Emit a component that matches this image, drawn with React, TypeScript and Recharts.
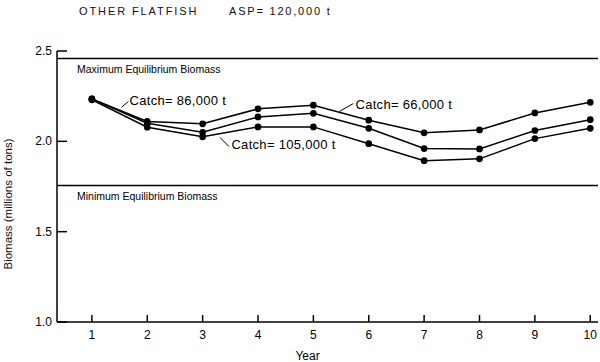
import { LineChart, Line, XAxis, YAxis, ReferenceLine, ReferenceDot } from "recharts";

const years = [1, 2, 3, 4, 5, 6, 7, 8, 9, 10];
const catch66k = [2.235, 2.11, 2.097, 2.18, 2.2, 2.117, 2.047, 2.063, 2.157, 2.216];
const catch86k = [2.235, 2.1, 2.05, 2.135, 2.155, 2.072, 1.96, 1.958, 2.06, 2.12];
const catch105k = [2.23, 2.078, 2.025, 2.08, 2.08, 1.987, 1.893, 1.903, 2.015, 2.072];

const yTicks = [1.0, 1.5, 2.0, 2.5];
const maxEquilibrium = 2.458;
const minEquilibrium = 1.755;

// annotation labels: text anchor, leader from -> to
const labels = [
  { text: "Catch= 86,000 t", x: 1.68, y: 2.226, from: { x: 1.54, y: 2.19 }, to: { x: 1.66, y: 2.22 } },
  { text: "Catch= 66,000 t", x: 5.76, y: 2.203, from: { x: 5.47, y: 2.165 }, to: { x: 5.72, y: 2.209 } },
  { text: "Catch= 105,000 t", x: 3.52, y: 1.982, from: { x: 3.315, y: 2.021 }, to: { x: 3.477, y: 1.971 } },
];

const data = years.map((yr, i) => ({
  year: yr,
  c66: catch66k[i],
  c86: catch86k[i],
  c105: catch105k[i],
}));

const FONT = "'Liberation Sans', Arial, Helvetica, sans-serif";

function XTick(props: any) {
  const { x, y, payload } = props;
  const axisY = y - 2;
  return (
    <g>
      <path d={`M${x},${axisY}V${axisY - 7}`} stroke="#000" strokeWidth={1.5} />
      <text x={x} y={axisY + 17} textAnchor="middle" fontSize={12} fontFamily={FONT} fill="#000">
        {payload.value}
      </text>
    </g>
  );
}

function YTick(props: any) {
  const { x, y, payload } = props;
  const axisX = x + 3;
  return (
    <g>
      <path d={`M${axisX},${y}H${axisX + 10}`} stroke="#000" strokeWidth={1.5} />
      <text x={axisX - 5} y={y + 4} textAnchor="end" fontSize={12} fontFamily={FONT} fill="#000">
        {Number(payload.value).toFixed(1)}
      </text>
    </g>
  );
}

export default function App() {
  return (
    <div style={{ position: "absolute", left: 0, top: 0, width: 600, height: 362, background: "#fff", fontFamily: FONT }}>
      <div style={{ position: "absolute", left: 79, top: 5, fontSize: 11, letterSpacing: 1.9, color: "#111", whiteSpace: "nowrap" }}>
        OTHER FLATFISH
      </div>
      <div style={{ position: "absolute", left: 229, top: 5, fontSize: 11, letterSpacing: 1.8, color: "#111", whiteSpace: "nowrap" }}>
        ASP= 120,000 t
      </div>
      <div
        style={{
          position: "absolute",
          left: 8,
          top: 204,
          fontSize: 11.5,
          color: "#111",
          whiteSpace: "nowrap",
          transform: "translate(-50%, -50%) rotate(-90deg)",
        }}
      >
        Biomass (millions of tons)
      </div>
      <LineChart width={600} height={362} data={data} margin={{ top: 51, right: 2, bottom: 0, left: 0 }}>
        <XAxis
          dataKey="year"
          type="number"
          domain={[0.37, 10.14]}
          ticks={years}
          allowDataOverflow
          tickLine={false}
          tickSize={0}
          tickMargin={2}
          height={40}
          stroke="#000"
          strokeWidth={1.5}
          tick={<XTick />}
          label={{ value: "Year", position: "insideBottom", offset: 2, dx: -20, fontSize: 12, fill: "#000", fontFamily: FONT }}
        />
        <YAxis
          type="number"
          domain={[1.0, 2.5]}
          ticks={yTicks}
          allowDataOverflow
          tickLine={false}
          tickSize={0}
          tickMargin={3}
          width={57}
          stroke="#000"
          strokeWidth={1.5}
          tick={<YTick />}
        />
        <ReferenceLine
          y={maxEquilibrium}
          stroke="#000"
          strokeWidth={1.5}
          label={{ value: "Maximum Equilibrium Biomass", position: "insideBottomLeft", dx: 15, dy: 19, fontSize: 10.5, fill: "#000", fontFamily: FONT }}
        />
        <ReferenceLine
          y={minEquilibrium}
          stroke="#000"
          strokeWidth={1.5}
          label={{ value: "Minimum Equilibrium Biomass", position: "insideBottomLeft", dx: 15, dy: 19, fontSize: 10.5, fill: "#000", fontFamily: FONT }}
        />
        {labels.map((l) => (
          <ReferenceLine key={l.text + "-leader"} segment={[l.from, l.to]} stroke="#000" strokeWidth={1} />
        ))}
        {labels.map((l) => (
          <ReferenceDot
            key={l.text}
            x={l.x}
            y={l.y}
            r={0}
            fill="none"
            stroke="none"
            label={{ value: l.text, position: "right", offset: 0, fontSize: 13, letterSpacing: 0.3, fill: "#000", fontFamily: FONT }}
          />
        ))}
        <Line dataKey="c66" stroke="#000" strokeWidth={1.5} dot={{ r: 2.6, fill: "#000", stroke: "#000" }} isAnimationActive={false} />
        <Line dataKey="c86" stroke="#000" strokeWidth={1.5} dot={{ r: 2.6, fill: "#000", stroke: "#000" }} isAnimationActive={false} />
        <Line dataKey="c105" stroke="#000" strokeWidth={1.5} dot={{ r: 2.6, fill: "#000", stroke: "#000" }} isAnimationActive={false} />
      </LineChart>
    </div>
  );
}
